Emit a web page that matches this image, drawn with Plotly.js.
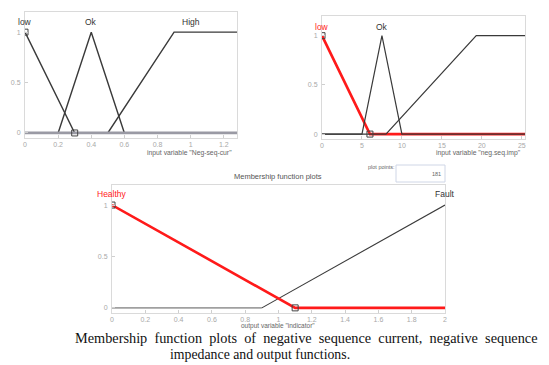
<!DOCTYPE html>
<html>
<head>
<meta charset="utf-8">
<script src="https://cdn.plot.ly/plotly-3.0.1.min.js"></script>
<style>html,body{margin:0;padding:0;background:#fff;}#chart{width:549px;height:365px;}</style>
</head>
<body>
<div id="chart"></div>
<script>
// ---- Panel 1: input variable "Neg-seq-cur"
const curLowX = [0, 0.3, 1.28];
const curLowY = [1, 0, 0];
const curOkX = [0, 0.2, 0.4, 0.6, 1.28];
const curOkY = [0, 0, 1, 0, 0];
const curHighX = [0, 0.5, 0.9, 1.28];
const curHighY = [0, 0, 1, 1];
const curTicks = [0, 0.2, 0.4, 0.6, 0.8, 1, 1.2];
const curTickText = ["0", "0.2", "0.4", "0.6", "0.8", "1", "1.2"];
const curLabels = ["low", "Ok", "High"];
const curLabelX = [0, 0.4, 1.0];

// ---- Panel 2: input variable "neg.seq.imp"
const impLowX = [0, 6, 25.4];
const impLowY = [1, 0, 0];
const impOkX = [0, 5, 7.5, 10, 25.4];
const impOkY = [0, 0, 1, 0, 0];
const impHighX = [0, 8, 19.3, 25.4];
const impHighY = [0, 0, 1, 1];
const impTicks = [0, 5, 10, 15, 20, 25];
const impLabels = ["low", "Ok"];
const impLabelX = [0, 7.5];

// ---- Panel 3: output variable "indicator"
const outHealthyX = [0, 1.1, 2];
const outHealthyY = [1, 0, 0];
const outFaultX = [0, 0.9, 2];
const outFaultY = [0, 0, 1];
const outTicks = [0, 0.2, 0.4, 0.6, 0.8, 1, 1.2, 1.4, 1.6, 1.8, 2];
const outTickText = ["0", "0.2", "0.4", "0.6", "0.8", "1", "1.2", "1.4", "1.6", "1.8", "2"];
const outLabels = ["Healthy", "Fault"];
const outLabelX = [0, 2];

const yTicks = [0, 0.5, 1];

const W = 549, H = 365;
const px = v => v / W;
const py = v => 1 - v / H;

const dark = '#3a3a3a', red = '#ff1a1a', gray = '#9a9aa4';

function line(x, y, ax, color, width) {
  return {x: x, y: y, xaxis: 'x' + ax, yaxis: 'y' + ax, type: 'scatter', mode: 'lines',
    line: {color: color, width: width}, hoverinfo: 'skip', showlegend: false};
}
function marks(x, y, ax) {
  return {x: x, y: y, xaxis: 'x' + ax, yaxis: 'y' + ax, type: 'scatter', mode: 'markers',
    marker: {symbol: 'square-open', size: 6, color: '#444', line: {width: 1}}, hoverinfo: 'skip', showlegend: false};
}

const data = [
  line(curLowX, curLowY, '', dark, 1.4),
  line(curOkX, curOkY, '', dark, 1.4),
  line(curHighX, curHighY, '', dark, 1.4),
  line([0, 1.28], [0, 0], '', gray, 2.8),
  marks([curLowX[0], curLowX[1]], [curLowY[0], curLowY[1]], ''),

  line(impLowX, impLowY, '2', red, 2.6),
  line(impOkX, impOkY, '2', dark, 1.2),
  line(impHighX, impHighY, '2', dark, 1.2),
  marks([impLowX[0], impLowX[1]], [impLowY[0], impLowY[1]], '2'),

  line(outFaultX.slice(0, 2), outFaultY.slice(0, 2), '3', '#a0a0a0', 1.8),
  line(outFaultX.slice(1), outFaultY.slice(1), '3', dark, 1.1),
  line(outHealthyX, outHealthyY, '3', red, 2.6),
  marks([outHealthyX[0], outHealthyX[1]], [outHealthyY[0], outHealthyY[1]], '3')
];

const tickFont = {family: 'Liberation Sans, Arial, sans-serif', size: 7, color: '#a8a8a8'};
function xax(domain, range, ticks, text, anchor) {
  const a = {domain: domain, range: range, tickvals: ticks, showgrid: false, zeroline: false,
    showline: true, linecolor: '#dadada', linewidth: 1, mirror: true, ticks: 'inside', ticklen: 3,
    tickcolor: '#cfcfcf', tickwidth: 1, tickfont: tickFont, anchor: anchor, fixedrange: true, ticklabelstandoff: 0};
  if (text) a.ticktext = text;
  return a;
}
function yax(domain, anchor) {
  return {domain: domain, range: [-0.05, 1.2], tickvals: yTicks, ticktext: ['0', '0.5', '1'],
    showgrid: false, zeroline: false, showline: true, linecolor: '#dadada', linewidth: 1, mirror: true,
    ticks: 'inside', ticklen: 3, tickcolor: '#cfcfcf', tickwidth: 1, tickfont: tickFont, anchor: anchor,
    fixedrange: true, ticklabelstandoff: 2};
}

const lab = {family: 'Liberation Sans, Arial, sans-serif', size: 8.5, color: '#333'};
const annotations = [];
curLabels.forEach((t, i) => annotations.push({xref: 'x', yref: 'y', x: curLabelX[i], y: 1.1, text: t,
  showarrow: false, font: lab, xanchor: 'center', yanchor: 'middle'}));
impLabels.forEach((t, i) => annotations.push({xref: 'x2', yref: 'y2', x: impLabelX[i], y: 1.09, text: t,
  showarrow: false, font: Object.assign({}, lab, {color: i === 0 ? red : '#333'}), xanchor: 'center', yanchor: 'middle'}));
outLabels.forEach((t, i) => annotations.push({xref: 'x3', yref: 'y3', x: outLabelX[i], y: 1.11, text: t,
  showarrow: false, font: Object.assign({}, lab, {color: i === 0 ? red : '#333'}), xanchor: 'center', yanchor: 'middle'}));

const small = {family: 'Liberation Sans, Arial, sans-serif', size: 6.8, color: '#666'};
const NB = '\u00a0';
const cap1 = 'Membership function plots of negative sequence current, negative sequence'.split(' ').join(' ' + NB);
annotations.push(
  {xref: 'paper', yref: 'paper', x: px(234), y: py(153), text: 'input variable "Neg-seq-cur"', showarrow: false,
    font: small, xanchor: 'right', yanchor: 'middle'},
  {xref: 'paper', yref: 'paper', x: px(523), y: py(153), text: 'input variable "neg.seq.imp"', showarrow: false,
    font: small, xanchor: 'right', yanchor: 'middle'},
  {xref: 'paper', yref: 'paper', x: px(278), y: py(326), text: 'output variable "indicator"', showarrow: false,
    font: Object.assign({}, small, {size: 6.5}), xanchor: 'center', yanchor: 'middle'},
  {xref: 'paper', yref: 'paper', x: px(278), y: py(176), text: 'Membership function plots', showarrow: false,
    font: {family: 'Liberation Sans, Arial, sans-serif', size: 7.5, color: '#555'}, xanchor: 'center', yanchor: 'middle'},
  {xref: 'paper', yref: 'paper', x: px(381), y: py(167), text: 'plot points:', showarrow: false,
    font: {family: 'Liberation Sans, Arial, sans-serif', size: 5.5, color: '#666'}, xanchor: 'center', yanchor: 'middle'},
  {xref: 'paper', yref: 'paper', x: px(443), y: py(174), text: '181', showarrow: false,
    font: {family: 'Liberation Sans, Arial, sans-serif', size: 5.5, color: '#666'}, xanchor: 'right', yanchor: 'middle'},
  {xref: 'paper', yref: 'paper', x: px(73), y: py(338), text: cap1,
    showarrow: false, font: {family: 'Liberation Serif, Times New Roman, serif', size: 14.3, color: '#111'},
    xanchor: 'left', yanchor: 'middle'},
  {xref: 'paper', yref: 'paper', x: px(168), y: py(354), text: 'impedance and output functions.',
    showarrow: false, font: {family: 'Liberation Serif, Times New Roman, serif', size: 13.8, color: '#111'},
    xanchor: 'left', yanchor: 'middle'}
);

const layout = {
  width: W, height: H, margin: {l: 0, r: 0, t: 0, b: 0},
  paper_bgcolor: '#fff', plot_bgcolor: '#fff', showlegend: false,
  xaxis: xax([px(25), px(237)], [0, 1.28], curTicks, curTickText, 'y'),
  yaxis: yax([py(138), py(12)], 'x'),
  xaxis2: xax([px(322), px(525)], [0, 25.4], impTicks, null, 'y2'),
  yaxis2: yax([py(139), py(16)], 'x2'),
  xaxis3: xax([px(112), px(445)], [0, 2], outTicks, outTickText, 'y3'),
  yaxis3: yax([py(313), py(184.5)], 'x3'),
  shapes: [{type: 'rect', xref: 'paper', yref: 'paper', x0: px(396), x1: px(445), y0: py(182), y1: py(165),
    line: {color: '#cfd6e6', width: 1}, fillcolor: '#fff'}],
  annotations: annotations
};

Plotly.newPlot('chart', data, layout, {displayModeBar: false, staticPlot: true});
</script>
</body>
</html>
